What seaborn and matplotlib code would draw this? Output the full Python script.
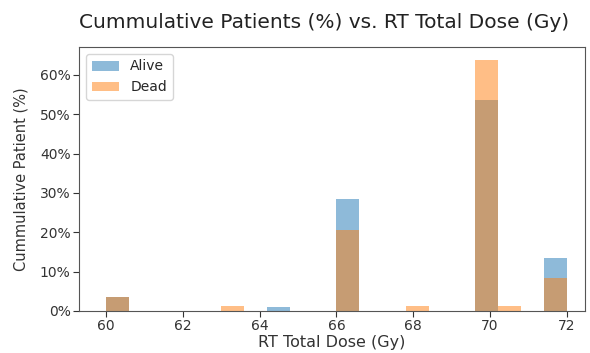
import numpy as np
import pandas as pd
import matplotlib
matplotlib.use("Agg")
import matplotlib.pyplot as plt
from matplotlib.ticker import PercentFormatter
import seaborn as sns

# Data (percent of patients per dose bin)
alive_dose = [60.0, 64.5, 66.0, 70.0, 72.0]
alive_pct = [3.57, 0.89, 28.57, 53.57, 13.39]
dead_dose = [60.0, 63.3, 66.0, 68.0, 70.0, 70.5, 72.0]
dead_pct = [3.61, 1.20, 20.48, 1.20, 63.86, 1.20, 8.43]
series_labels = ["Alive", "Dead"]
y_ticks = [0, 10, 20, 30, 40, 50, 60]
x_ticks = [60, 62, 64, 66, 68, 70, 72]

sns.set_style("ticks")
plt.rcParams['font.family'] = ['DejaVu Sans']

fig = plt.figure(figsize=(5.9, 3.53), dpi=100)
ax = fig.add_axes([79/590, 42/353, (585-79)/590, (311-47)/353])

alive_df = pd.DataFrame({"dose": alive_dose, "pct": alive_pct})
dead_df = pd.DataFrame({"dose": dead_dose, "pct": dead_pct})

sns.histplot(data=alive_df, x="dose", weights="pct", bins=20, binrange=(60, 72),
             stat="count", color="#1f77b4", alpha=0.5, linewidth=0,
             label=series_labels[0], ax=ax)
sns.histplot(data=dead_df, x="dose", weights="pct", bins=20, binrange=(60, 72),
             stat="count", color="#ff7f0e", alpha=0.5, linewidth=0,
             label=series_labels[1], ax=ax)

ax.set_xlim(59.3, 72.47)
ax.set_xticks(x_ticks)
ax.set_yticks(y_ticks)
ax.yaxis.set_major_formatter(PercentFormatter(decimals=0))
ax.tick_params(labelsize=10, colors="#333333", length=4, pad=2)
for s in ax.spines.values():
    s.set_color("#555555")

ax.set_xlabel("RT Total Dose (Gy)", fontsize=11.5, color="#333333", labelpad=1)
ax.set_ylabel("Cummulative Patient (%)", fontsize=10.5, color="#333333", labelpad=8)
ax.set_title("Cummulative Patients (%) vs. RT Total Dose (Gy)", fontsize=14.5,
             color="#222222", pad=14, x=0.485)
ax.legend(loc="upper left", fontsize=10, frameon=True)

fig.savefig("out.png", dpi=100)
